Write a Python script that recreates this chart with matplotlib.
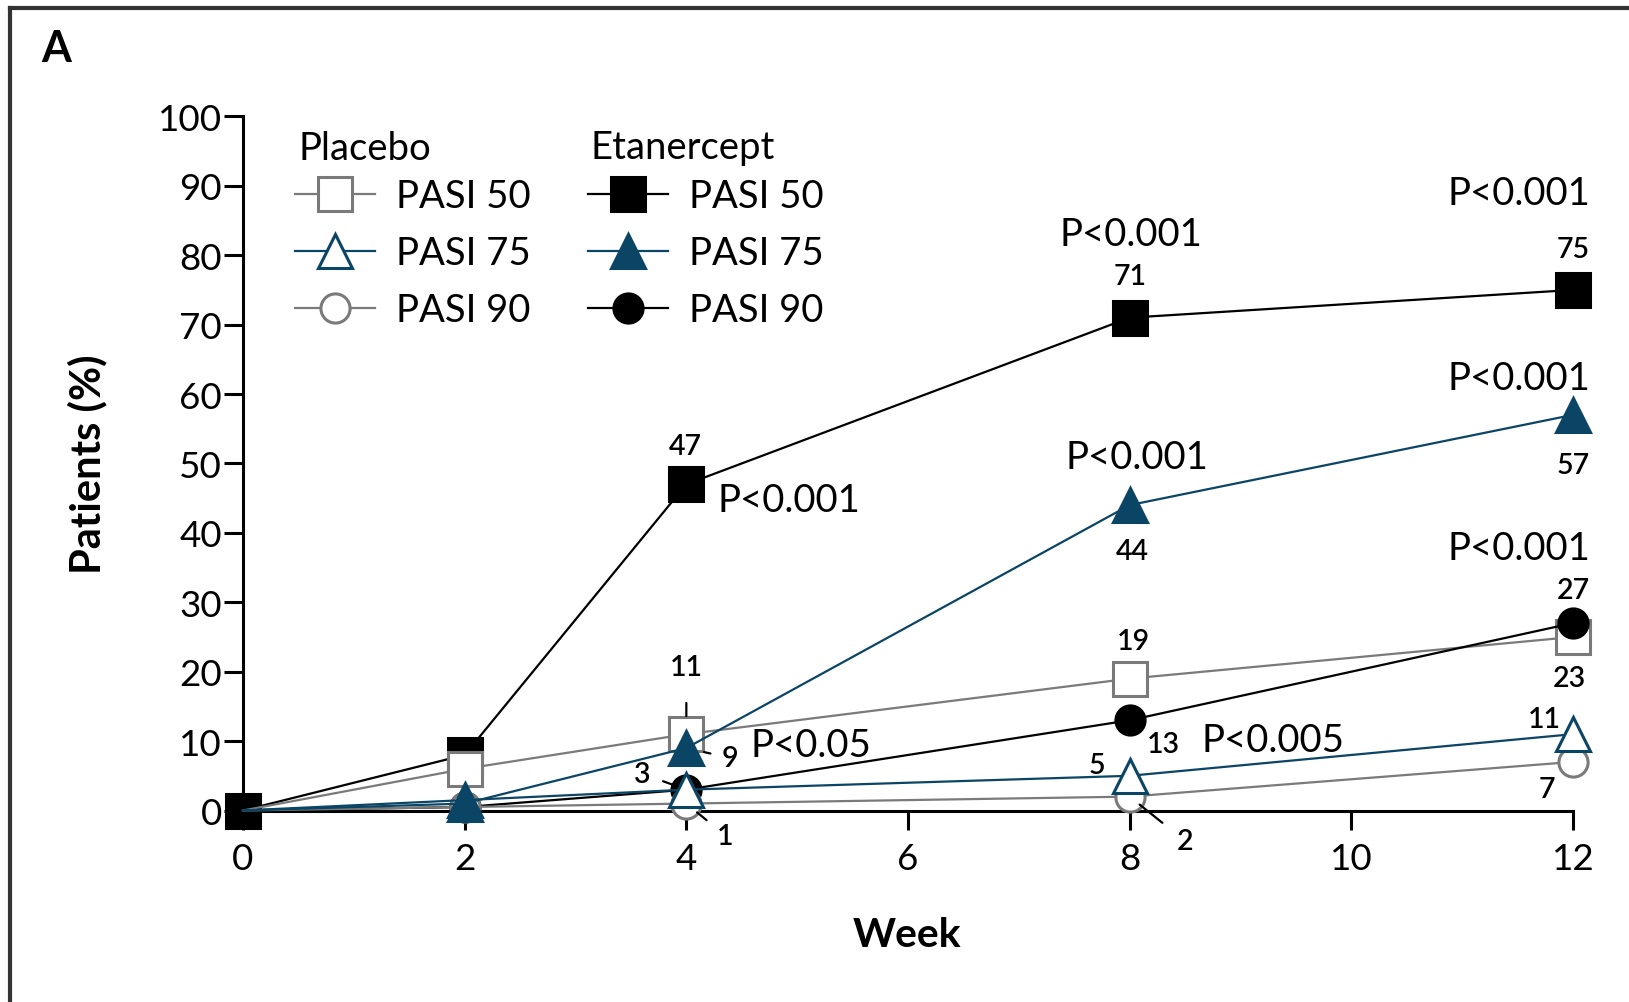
import matplotlib
matplotlib.use("Agg")
import matplotlib.pyplot as plt
from matplotlib.lines import Line2D

plt.rcParams['font.family'] = ['Lato', 'DejaVu Sans']

# ---------------- data ----------------
weeks = [0, 2, 4, 8, 12]
eta_pasi50 = [0, 8, 47, 71, 75]
eta_pasi75 = [0, 1, 9, 44, 57]
eta_pasi90 = [0, 0.5, 3, 13, 27]
pla_pasi50 = [0, 6, 11, 19, 25]
pla_pasi75 = [0, 1.5, 3, 5, 11]
pla_pasi90 = [0, 0.5, 1, 2, 7]

x_ticks = [0, 2, 4, 6, 8, 10, 12]
y_ticks = [0, 10, 20, 30, 40, 50, 60, 70, 80, 90, 100]
legend_labels = ['PASI 50', 'PASI 75', 'PASI 90']
group_titles = ['Placebo', 'Etanercept']

TEAL = '#0b4566'
GRAY = '#7a7a7a'
BLACK = '#000000'

fig = plt.figure(figsize=(16.29, 10.03), dpi=100)
W, H = 1629, 1003
ax = fig.add_axes([243 / W, 1 - 811.5 / H, 1330 / W, 694.1 / H])

ms_sq, ms_tri, ms_circ = 24, 24, 21
lw = 1.6

styles = {
    'eta50': dict(color=BLACK, marker='s', mfc=BLACK, mec=BLACK, ms=ms_sq, z=2),
    'pla50': dict(color=GRAY, marker='s', mfc='white', mec=GRAY, ms=ms_sq, z=3),
    'eta90': dict(color=BLACK, marker='o', mfc=BLACK, mec=BLACK, ms=ms_circ, z=4),
    'pla90': dict(color=GRAY, marker='o', mfc='white', mec=GRAY, ms=ms_circ, z=5),
    'pla75': dict(color=TEAL, marker='^', mfc='white', mec=TEAL, ms=ms_tri, z=6),
    'eta75': dict(color=TEAL, marker='^', mfc=TEAL, mec=TEAL, ms=ms_tri, z=7),
}
series = {
    'eta50': eta_pasi50, 'pla50': pla_pasi50, 'eta90': eta_pasi90,
    'pla90': pla_pasi90, 'pla75': pla_pasi75, 'eta75': eta_pasi75,
}
for key, vals in series.items():
    st = styles[key]
    ax.plot(weeks, vals, color=st['color'], lw=lw, marker=st['marker'],
            mfc=st['mfc'], mec=st['mec'], ms=st['ms'], mew=2.2,
            markevery=(slice(0, None) if key == 'eta50' else slice(1, None)),
            zorder=st['z'], clip_on=False)

ax.set_xlim(0, 12)
ax.set_ylim(0, 100)
ax.set_xticks(x_ticks)
ax.set_yticks(y_ticks)
ax.set_xticklabels([str(t) for t in x_ticks])
ax.set_yticklabels([str(t) for t in y_ticks])
for s in ['top', 'right']:
    ax.spines[s].set_visible(False)
for s in ['left', 'bottom']:
    ax.spines[s].set_linewidth(2.2)
    ax.spines[s].set_zorder(1)
ax.tick_params(axis='both', direction='out', length=14, width=2.2,
               labelsize=26.5, colors='black')
ax.tick_params(axis='y', pad=1)
ax.tick_params(axis='x', pad=9)

ax.set_ylabel('Patients (%)', fontsize=30, fontweight='bold')
ax.yaxis.set_label_coords((107 - 243) / 1330, 0.5)
ax.set_xlabel('Week', fontsize=29.5, fontweight='bold')
ax.xaxis.set_label_coords((907 - 243) / 1330, (811.5 - 917) / 694.1)

# ---------------- annotations ----------------
NUM = 20.5
PV = 27.5
# (text, series, week index, dx, dy, ha, fontsize, leader shrinkA/shrinkB)
notes = [
    ('47', 'eta50', 2, -1, 38, 'center', NUM, None),
    ('P<0.001', 'eta50', 2, 31, -16, 'left', PV, None),
    ('71', 'eta50', 3, 0, 42, 'center', NUM, None),
    ('P<0.001', 'eta50', 3, 1, 84, 'center', PV, None),
    ('75', 'eta50', 4, 0, 41, 'center', NUM, None),
    ('P<0.001', 'eta50', 4, -54, 97, 'center', PV, None),
    ('P<0.001', 'eta75', 3, 7, 48, 'center', PV, None),
    ('44', 'eta75', 3, 3, -46, 'center', NUM, None),
    ('P<0.001', 'eta75', 4, -54, 37, 'center', PV, None),
    ('57', 'eta75', 4, 0, -50, 'center', NUM, None),
    ('P<0.001', 'eta90', 4, -54, 75, 'center', PV, None),
    ('27', 'eta90', 4, 0, 33, 'center', NUM, None),
    ('23', 'pla50', 4, -4, -41, 'center', NUM, None),
    ('11', 'pla75', 4, -29, 15, 'center', NUM, None),
    ('7', 'pla90', 4, -26, -27, 'center', NUM, None),
    ('19', 'pla50', 3, 4, 38, 'center', NUM, None),
    ('13', 'eta90', 3, 34, -24, 'center', NUM, None),
    ('P<0.005', 'eta90', 3, 72, -20, 'left', PV, None),
    ('5', 'pla75', 3, -33, 11, 'center', NUM, None),
    ('2', 'pla90', 3, 55, -44, 'center', NUM, (10.3, 9.2)),
    ('11', 'pla50', 2, 0, 67, 'center', NUM, (14.4, 13)),
    ('9', 'eta75', 2, 44, -10, 'center', NUM, (6.5, 13)),
    ('P<0.05', 'eta75', 2, 64, 3, 'left', PV, None),
    ('3', 'eta90', 2, -44, 16, 'center', NUM, (7.4, 6.6)),
    ('1', 'pla90', 2, 39, -32, 'center', NUM, (7.2, 10)),
]
for text, key, idx, dx, dy, ha, fs, leader in notes:
    kw = {}
    if leader is not None:
        kw['arrowprops'] = dict(arrowstyle='-', color=BLACK, lw=1.6,
                                shrinkA=leader[0], shrinkB=leader[1])
    ax.annotate(text, xy=(weeks[idx], series[key][idx]), xytext=(dx, dy),
                textcoords='offset pixels', ha=ha, va='center',
                fontsize=fs, color=BLACK, zorder=10, annotation_clip=False,
                fontweight=('semibold' if fs == NUM else 'normal'), **kw)

# ---------------- legends ----------------
def handle(key):
    st = styles[key]
    return Line2D([], [], color=st['color'], lw=lw, marker=st['marker'],
                  mfc=st['mfc'], mec=st['mec'], ms=st['ms'], mew=2.2)

LEGFS = 27.5
leg_kw = dict(frameon=False, fontsize=LEGFS, loc='center left',
              handlelength=2.1, handletextpad=0.55, labelspacing=0.55,
              borderpad=0, borderaxespad=0, numpoints=1)
fig.legend([handle('pla50'), handle('pla75'), handle('pla90')],
           legend_labels, bbox_to_anchor=(295 / W, 1 - 254 / H), **leg_kw)
fig.legend([handle('eta50'), handle('eta75'), handle('eta90')],
           legend_labels, bbox_to_anchor=(588 / W, 1 - 254 / H), **leg_kw)
fig.text(298 / W, 1 - 148.5 / H, group_titles[0], fontsize=LEGFS,
         ha='left', va='center')
fig.text(590 / W, 1 - 148.5 / H, group_titles[1], fontsize=LEGFS,
         ha='left', va='center')

# ---------------- panel letter and frame ----------------
fig.text(56 / W, 1 - 49 / H, 'A', fontsize=31, fontweight='bold',
         ha='center', va='center')
fig.add_artist(Line2D([10 / W, 1], [1 - 9 / H, 1 - 9 / H], color='#333333',
                      lw=3, transform=fig.transFigure))
fig.add_artist(Line2D([10 / W, 10 / W], [0, 1 - 9 / H], color='#333333',
                      lw=3, transform=fig.transFigure))

fig.savefig('out.png', dpi=100)
